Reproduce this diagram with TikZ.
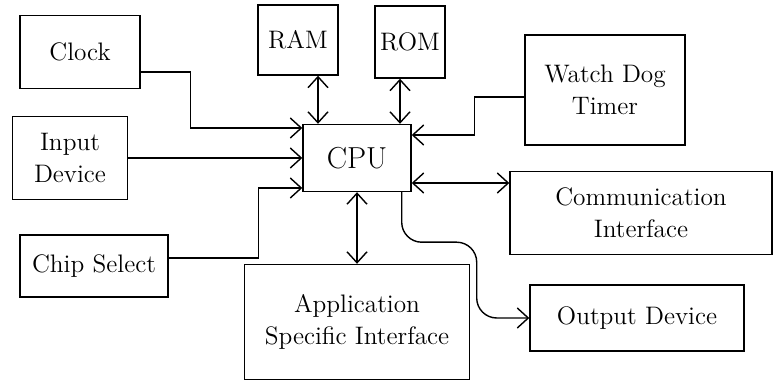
\documentclass[tikz,border=0pt]{standalone}
\usetikzlibrary{arrows.meta}
\begin{document}
\begin{tikzpicture}[x=0.2mm, y=-0.2mm, thick,
		>={Straight Barb[length=2.2mm,width=4mm]},
		block/.style 2 args={draw, align=center, font=\Large, inner sep=2pt,
			minimum width=#1*0.2mm, minimum height=#2*0.2mm}]
		\useasboundingbox (0,0) rectangle (775,388);
		
		% blocks round the CPU
		\node[block={108}{67}, font=\LARGE] (cpu) at (357,158) {CPU};
		\node[block={120}{73}] (clock) at (80,52) {Clock};
		\node[block={115}{83}] (input) at (70,158) {Input\\Device};
		\node[block={148}{62}] (chipsel) at (94,266) {Chip Select};
		\node[block={80}{70}] (ram) at (298,40) {RAM};
		\node[block={70}{72}] (rom) at (410,42) {ROM};
		\node[block={160}{110}] (wdt) at (605,90) {Watch Dog\\Timer};
		\node[block={262}{83}] (comm) at (641,213) {Communication\\Interface};
		\node[block={225}{115}] (asi) at (357,322) {Application\\Specific Interface};
		\node[block={214}{66}] (output) at (637,318) {Output Device};
		
		% inputs to the CPU
		\draw[->] ([yshift=-4mm]clock.east) -- ++(10mm,0) |- ([yshift=6mm]cpu.west);
		\draw[->] (input.east) -- (cpu.west);
		\draw[->] ([yshift=1.6mm]chipsel.east) -- ++(18mm,0) |- ([yshift=-6mm]cpu.west);
		\draw[->] ([yshift=-1.4mm]wdt.west) -- ++(-10mm,0) |- ([yshift=4.6mm]cpu.east);
		
		% two way links
		\draw[<->] ([xshift=4mm]ram.south) -- ([xshift=4mm]ram.south |- cpu.north);
		\draw[<->] ([xshift=-2mm]rom.south) -- ([xshift=-2mm]rom.south |- cpu.north);
		\draw[<->] ([yshift=-5mm]cpu.east) -- ([yshift=-5mm]cpu.east -| comm.west);
		\draw[<->] (cpu.south) -- (asi.north);
		
		% output
		\draw[->, rounded corners=4mm] ([xshift=-2mm]cpu.south east) -- ++(0,-10mm)
			-- ++(15mm,0) |- (output.west);
\end{tikzpicture}
\end{document}
